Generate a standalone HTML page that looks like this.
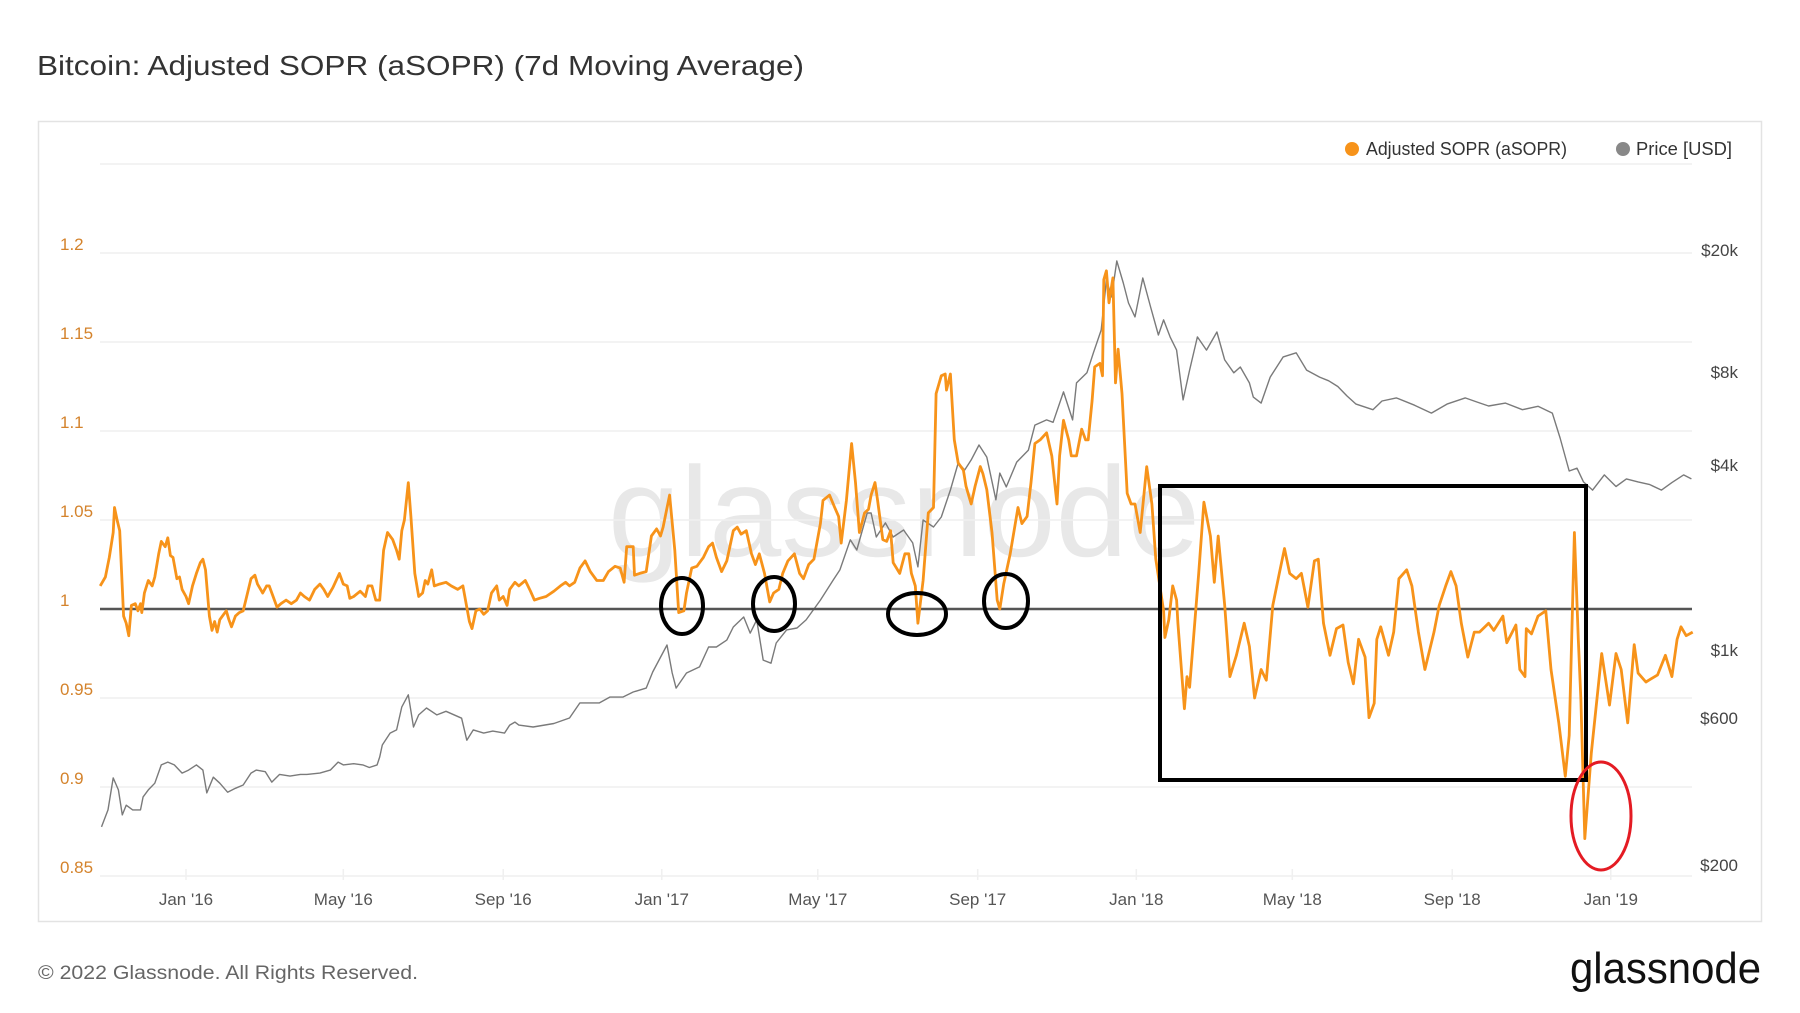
<!DOCTYPE html>
<html><head><meta charset="utf-8"><style>
html,body{margin:0;padding:0;background:#fff;}
svg{display:block;font-family:"Liberation Sans",sans-serif;}
</style></head><body>
<svg id="chart" width="1800" height="1013" viewBox="0 0 1800 1013" xmlns="http://www.w3.org/2000/svg">
<text x="37" y="75" font-size="28" fill="#333" textLength="767" lengthAdjust="spacingAndGlyphs">Bitcoin: Adjusted SOPR (aSOPR) (7d Moving Average)</text>
<rect x="38.5" y="121.5" width="1723" height="800" fill="none" stroke="#e3e3e3" stroke-width="1.5"/>
<text x="608" y="556" font-size="128" fill="#e8e8e8" textLength="592" lengthAdjust="spacingAndGlyphs">glassnode</text>
<g id="grid"></g>
<g id="axes"></g>
<g id="series"></g>
<g>
<circle cx="1352" cy="149" r="7" fill="#f7931a"/>
<text x="1366" y="155" font-size="18" fill="#333" textLength="201" lengthAdjust="spacingAndGlyphs">Adjusted SOPR (aSOPR)</text>
<circle cx="1623" cy="149" r="7" fill="#888"/>
<text x="1636" y="155" font-size="18" fill="#333" textLength="96" lengthAdjust="spacingAndGlyphs">Price [USD]</text>
</g>
<g fill="none">
<ellipse cx="682" cy="606" rx="21" ry="28" stroke="#000" stroke-width="4"/>
<ellipse cx="774" cy="604" rx="21" ry="27" stroke="#000" stroke-width="4"/>
<ellipse cx="917" cy="614" rx="29" ry="21" stroke="#000" stroke-width="4"/>
<ellipse cx="1006" cy="601" rx="22" ry="27" stroke="#000" stroke-width="4"/>
<rect x="1160" y="486" width="426" height="294" stroke="#000" stroke-width="4"/>
<ellipse cx="1601" cy="816" rx="30" ry="54" stroke="#e41b23" stroke-width="3"/>
</g>
<text x="38" y="979" font-size="19" fill="#666" textLength="380" lengthAdjust="spacingAndGlyphs">© 2022 Glassnode. All Rights Reserved.</text>
<text x="1570" y="983" font-size="44" fill="#111" textLength="191" lengthAdjust="spacingAndGlyphs">glassnode</text>
</svg>
<script>
// aSOPR: day offset from 2016-01-01, value
const aDays=[-66,-62,-59,-56,-55,-53,-51,-50,-48,-46,-44,-42,-39,-37,-35,-34,-32,-29,-26,-24,-21,-19,-16,-14,-12,-10,-7,-5,-3,0,2,5,8,11,13,15,18,20,22,24,26,29,31,33,35,38,41,44,48,50,53,55,59,62,64,67,70,73,77,81,85,88,91,95,99,103,106,109,113,118,121,124,126,129,134,138,140,143,146,149,152,155,159,162,164,166,168,171,173,176,179,182,184,186,189,191,195,200,204,209,213,216,218,220,223,226,229,232,235,239,241,244,247,249,253,256,261,265,268,272,277,283,288,292,295,299,303,307,311,316,321,325,330,334,337,339,344,345,349,354,358,362,365,367,372,376,379,383,385,389,393,395,398,402,405,408,412,416,421,424,427,431,435,438,441,445,449,452,456,459,463,468,472,475,479,483,488,490,495,499,502,504,508,512,515,518,522,525,527,530,532,536,539,542,544,549,553,556,558,561,563,567,571,575,577,581,584,585,588,591,594,598,600,604,607,611,613,616,620,624,626,629,634,640,643,647,650,653,657,662,666,670,672,675,679,681,685,689,692,694,697,699,703,705,706,708,710,713,715,717,720,724,727,730,734,739,743,746,752,753,756,759,762,763,768,770,772,779,783,788,791,794,799,803,808,814,818,822,827,831,836,841,845,849,854,858,863,868,871,875,880,885,890,894,898,902,907,910,914,916,919,925,929,933,939,943,948,953,960,964,969,973,977,981,986,991,995,1002,1006,1013,1016,1023,1026,1030,1031,1035,1040,1046,1050,1056,1061,1064,1068,1071,1073,1076,1081,1089,1095,1100,1104,1109,1114,1117,1123,1132,1138,1143,1147,1150,1154,1159];
const aVals=[1.013,1.018,1.029,1.043,1.057,1.050,1.044,1.028,0.996,0.992,0.985,1.002,1.003,0.999,1.003,0.998,1.009,1.016,1.013,1.018,1.031,1.038,1.035,1.040,1.030,1.029,1.017,1.018,1.011,1.007,1.003,1.013,1.020,1.026,1.028,1.022,0.996,0.988,0.993,0.987,0.994,0.997,0.999,0.994,0.990,0.996,0.998,0.999,1.011,1.017,1.019,1.014,1.009,1.013,1.013,1.007,1.001,1.003,1.005,1.003,1.005,1.009,1.007,1.005,1.011,1.014,1.011,1.007,1.012,1.020,1.014,1.013,1.006,1.007,1.010,1.007,1.013,1.013,1.005,1.005,1.033,1.043,1.039,1.033,1.028,1.044,1.050,1.071,1.052,1.020,1.007,1.009,1.016,1.014,1.022,1.013,1.014,1.015,1.013,1.011,1.013,1.001,0.993,0.989,0.999,1.000,0.997,0.999,1.009,1.013,1.005,1.007,1.002,1.011,1.015,1.013,1.016,1.010,1.005,1.006,1.007,1.010,1.013,1.015,1.013,1.015,1.023,1.027,1.021,1.016,1.016,1.021,1.024,1.023,1.015,1.035,1.035,1.019,1.020,1.021,1.041,1.045,1.041,1.046,1.064,1.033,0.998,0.999,1.009,1.023,1.024,1.026,1.029,1.035,1.037,1.029,1.021,1.027,1.044,1.046,1.042,1.044,1.031,1.025,1.031,1.020,1.004,1.009,1.011,1.020,1.027,1.031,1.020,1.017,1.025,1.028,1.048,1.061,1.064,1.057,1.052,1.037,1.061,1.093,1.071,1.043,1.054,1.056,1.064,1.071,1.061,1.039,1.038,1.044,1.026,1.020,1.031,1.031,1.020,1.013,0.992,1.016,1.054,1.057,1.121,1.131,1.132,1.123,1.132,1.095,1.082,1.078,1.069,1.059,1.069,1.080,1.076,1.067,1.043,1.005,1.000,1.014,1.031,1.057,1.048,1.052,1.071,1.093,1.095,1.099,1.086,1.059,1.086,1.106,1.095,1.086,1.086,1.101,1.095,1.095,1.117,1.136,1.138,1.131,1.185,1.190,1.172,1.186,1.127,1.146,1.121,1.065,1.059,1.059,1.043,1.080,1.059,1.028,0.999,0.984,0.994,1.013,1.005,0.992,0.944,0.962,0.956,1.020,1.060,1.041,1.015,1.041,1.002,0.962,0.974,0.992,0.979,0.950,0.966,0.960,1.002,1.020,1.034,1.020,1.017,1.020,1.001,1.027,1.028,0.992,0.974,0.989,0.991,0.970,0.958,0.983,0.973,0.939,0.947,0.983,0.990,0.974,0.987,1.017,1.022,1.013,0.987,0.966,0.987,1.002,1.013,1.021,1.013,0.992,0.973,0.987,0.987,0.992,0.988,0.996,0.981,0.991,0.966,0.962,0.989,0.986,0.996,0.999,0.966,0.936,0.906,0.929,1.043,0.983,0.949,0.871,0.919,0.975,0.946,0.975,0.966,0.936,0.980,0.964,0.959,0.963,0.974,0.962,0.983,0.990,0.985,0.987];
// Price USD
const pDays=[-65,-60,-56,-52,-49,-46,-41,-35,-33,-29,-24,-19,-14,-9,-3,2,8,13,16,21,26,32,38,44,50,54,61,66,72,80,88,93,103,111,117,121,129,136,141,147,149,151,157,162,166,171,175,179,185,193,200,212,216,221,229,236,245,249,253,256,267,283,295,303,308,318,326,336,344,354,359,370,374,377,385,395,402,408,416,421,429,434,439,444,450,454,462,470,477,488,498,503,511,516,524,527,531,538,544,552,559,563,567,575,581,588,594,599,604,610,616,623,626,631,639,648,653,662,667,675,682,685,693,698,704,708,712,716,721,725,730,736,742,748,752,757,762,767,772,778,785,793,799,806,811,818,821,827,834,844,854,862,872,879,886,893,900,913,920,931,945,958,970,984,993,1002,1015,1028,1040,1051,1057,1064,1070,1075,1082,1091,1100,1108,1117,1126,1135,1143,1152,1158];
const pVals=[266,302,384,351,291,313,302,302,333,351,369,423,432,423,398,407,423,407,343,386,369,345,355,364,398,407,402,372,394,389,394,394,398,407,432,423,427,423,415,423,449,491,537,550,653,715,562,615,648,615,632,600,509,550,537,545,537,570,583,570,562,577,601,673,673,673,703,703,730,752,848,1038,842,752,842,881,1023,1023,1077,1188,1280,1135,1253,927,906,1054,1162,1179,1253,1453,1691,1821,2281,2114,2789,2789,2330,2589,2330,2455,2229,1863,2647,2511,2706,3312,4055,3847,4150,4640,4237,3077,3760,3389,4083,4467,5384,5600,5500,6902,5600,7382,7962,9250,10970,15950,14060,18400,15600,13430,12100,16200,13030,10570,11830,10420,9440,6500,8130,10420,9440,10810,8770,7962,8320,7382,6640,6350,7710,8970,9250,8130,7710,7500,7190,6700,6300,6040,6450,6600,6250,5890,6300,6600,6400,6210,6350,6040,6200,5890,4890,3820,3900,3520,3310,3710,3400,3600,3520,3450,3310,3500,3710,3600];
const leftTicks=[0.85,0.9,0.95,1,1.05,1.1,1.15,1.2];
const leftLabels=["0.85","0.9","0.95","1","1.05","1.1","1.15","1.2"];
const rightTicks=[200,600,1000,4000,8000,20000];
const rightLabels=["$200","$600","$1k","$4k","$8k","$20k"];
const xTickDays=[0,121,244,366,486,609,731,851,974,1096];
const xTickLabels=["Jan '16","May '16","Sep '16","Jan '17","May '17","Sep '17","Jan '18","May '18","Sep '18","Jan '19"];

const NS="http://www.w3.org/2000/svg";
const X0=100,X1=1692;
function xs(d){return 186+d*1.3;}
function yl(v){return 609-(v-1)*1780;}
function yr(p){return 865-307.6*Math.log10(p/200);}
function mk(tag,attrs,parent){const e=document.createElementNS(NS,tag);for(const k in attrs)e.setAttribute(k,attrs[k]);parent.appendChild(e);return e;}
const grid=document.getElementById('grid'),axes=document.getElementById('axes'),series=document.getElementById('series');
const gridVals=[0.85,0.9,0.95,1.05,1.1,1.15,1.2,1.25];
gridVals.forEach(v=>{
  const l=mk('line',{x1:X0,x2:X1,y1:yl(v),y2:yl(v),stroke:'#efefef','stroke-width':1.5},grid);
  
  
});
leftTicks.forEach((v,i)=>{
  const t=mk('text',{x:60,y:yl(v)-3,'font-size':17,fill:'#d4832c'},axes);
  t.textContent=leftLabels[i];
  
  
});
rightTicks.forEach((p,i)=>{
  const t=mk('text',{x:1738,y:yr(p)+6,'font-size':17,fill:'#444','text-anchor':'end'},axes);
  t.textContent=rightLabels[i];
  
  
});
xTickDays.forEach((d,i)=>{
  const tk=mk('line',{x1:xs(d),x2:xs(d),y1:869,y2:880,stroke:'#f0f0f0','stroke-width':1.5},axes);
  
  
  const t=mk('text',{x:xs(d),y:905,'font-size':17,fill:'#555','text-anchor':'middle'},axes);
  t.textContent=xTickLabels[i];
  
  
});
let pp=pDays.map((d,i)=>(i?'L':'M')+xs(d).toFixed(1)+' '+yr(pVals[i]).toFixed(1)).join(' ');
const pl=mk('path',{d:pp,fill:'none',stroke:'#7a7a7a','stroke-width':1.4,'stroke-linejoin':'round'},series);


const bl=mk('line',{x1:X0,x2:X1,y1:yl(1),y2:yl(1),stroke:'#555','stroke-width':2.5},series);


let ap=aDays.map((d,i)=>(i?'L':'M')+xs(d).toFixed(1)+' '+yl(aVals[i]).toFixed(1)).join(' ');
const al=mk('path',{d:ap,fill:'none',stroke:'#f7931a','stroke-width':2.8,'stroke-linejoin':'round'},series);


</script>
</body></html>
